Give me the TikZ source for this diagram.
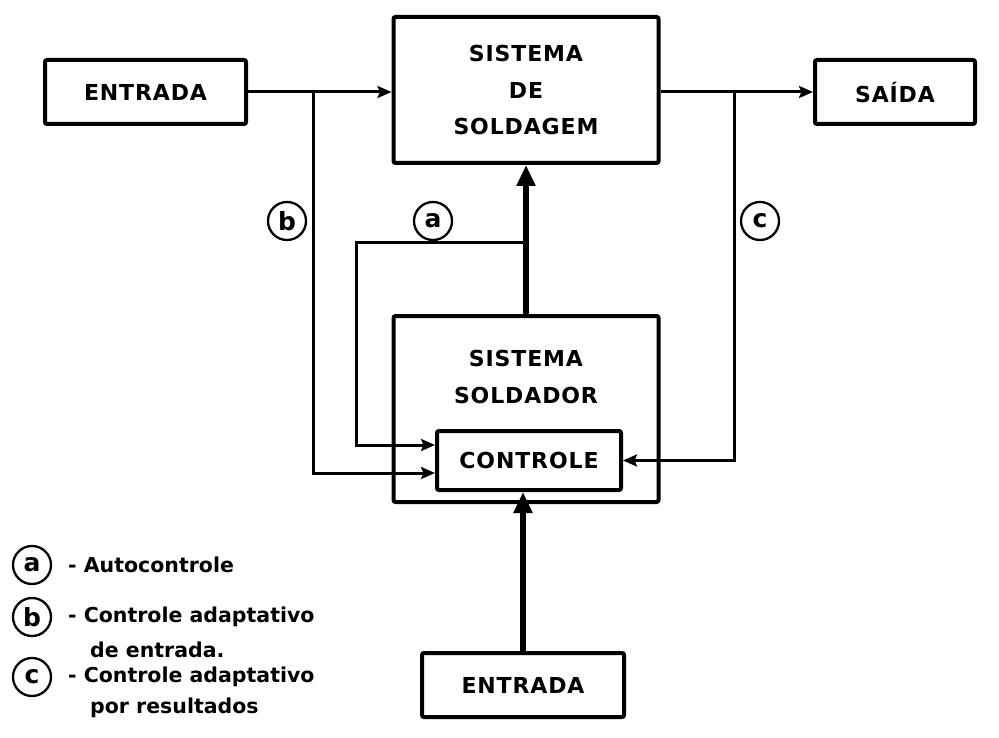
\documentclass[tikz,border=0pt]{standalone}
\usepackage{fontspec}
\setmainfont{DejaVu Sans}
\newfontfamily\lettering[LetterSpace=4]{DejaVu Sans Bold}
\newfontfamily\keyfont{DejaVu Sans Bold}
\usetikzlibrary{arrows.meta}

\begin{document}
\begin{tikzpicture}[x=1pt,y=-1pt,
  box/.style={draw,line width=4pt,rounded corners=2pt,inner sep=0pt,align=center,
    font=\lettering\fontsize{22}{36.5}\selectfont},
  conn/.style={line width=3pt,-{Stealth[length=14pt,width=12pt,inset=2.5pt]}},
  mainarrow/.style={line width=5.2pt,-{Triangle[length=21pt,width=18pt]}},
  tag/.style={draw,circle,line width=2.3pt,minimum size=38pt,inner sep=0pt,
    text height=13.7pt,text depth=0pt,
    font=\keyfont\fontsize{25}{25}\selectfont},
  tallglyph/.style={text height=19pt},
  legend/.style={anchor=west,inner sep=0pt,font=\keyfont\fontsize{20.5}{31}\selectfont}
]
\useasboundingbox (0,0) rectangle (999,738);

% blocks
\node[box,minimum width=201pt,minimum height=64pt] (in1) at (145.5,92) {ENTRADA};
\node[box,minimum width=265pt,minimum height=146pt] (weld) at (526,90) {SISTEMA\\DE\\SOLDAGEM};
\node[box,minimum width=160pt,minimum height=64pt] (out) at (895,92) {SAÍDA};
\node[box,minimum width=265pt,minimum height=186pt] (welder) at (526,409) {};
\node[inner sep=0pt,align=center,font=\lettering\fontsize{22}{37}\selectfont] (welderlabel) at (526,376.5) {SISTEMA\\SOLDADOR};
\node[box,minimum width=184pt,minimum height=59pt] (ctrl) at (529,460.5) {CONTROLE};
\node[box,minimum width=202pt,minimum height=64pt] (in2) at (523,685) {ENTRADA};

% branch points
\coordinate (jb) at (313,92);
\coordinate (jc) at (734,92);
\coordinate (ja) at (526,243);
\coordinate (acorner) at (356,445);

% forward path
\draw[conn] (in1.east) -- (weld.west |- in1.east);
\draw[conn] (weld.east |- jc) -- (out.west |- jc);
\draw[mainarrow] (welder.north) -- (weld.south);
\draw[mainarrow] (in2.north) -- (in2.north |- ctrl.south);

% feedback loops
\draw[conn] (ja) -| (acorner) -- ([yshift=15.5pt]ctrl.west);
\draw[conn] (jb) |- ([yshift=-12.5pt]ctrl.west);
\draw[conn] (jc) |- (ctrl.east);

% loop tags
\node[tag,tallglyph] (tb) at (287,221) {b};
\node[tag] (ta) at (433,221) {a};
\node[tag] (tc) at (760,221) {c};

% key
\node[tag] (ka) at (32,565) {a};
\node[legend] (ka1) at (68,565) {- Autocontrole};
\node[tag,tallglyph] (kb) at (32,617) {b};
\node[legend] (kb1) at (68,617) {- Controle adaptativo};
\node[legend] (kb2) at (90,650) {de entrada.};
\node[tag] (kc) at (32,677) {c};
\node[legend] (kc1) at (68,677) {- Controle adaptativo};
\node[legend] (kc2) at (90,708) {por resultados};
\end{tikzpicture}
\end{document}
